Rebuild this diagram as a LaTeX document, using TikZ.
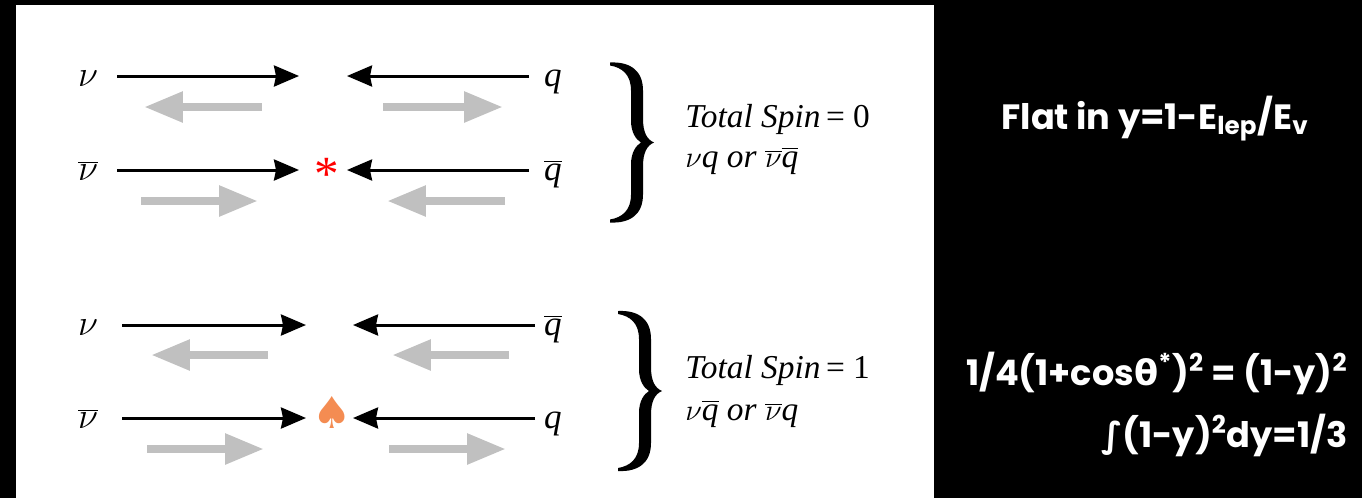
\documentclass[tikz,border=0pt]{standalone}
\usepackage{fontspec}
\setmainfont{Liberation Serif}
\newfontfamily\gothic{Poppins}
\newfontfamily\dejavu{DejaVu Sans}
\usetikzlibrary{arrows.meta}
\definecolor{spingray}{RGB}{192,192,192}
\definecolor{spadeorange}{RGB}{244,140,82}
\newcommand{\bb}[1]{$\overline{\mbox{#1}}$}

\begin{document}
\begin{tikzpicture}[x=0.02cm, y=-0.02cm,
  blk/.style={-{Stealth[length=0.5cm, width=0.42cm, inset=0.04cm]}, line width=0.06cm},
  spin/.style={-{Triangle[length=0.78cm, width=0.58cm]}, line width=0.17cm, spingray},
  lbl/.style={font=\fontsize{20}{22}\selectfont\itshape, inner sep=0pt, anchor=base},
  nulbl/.style={font=\fontsize{22}{24}\selectfont, inner sep=0pt, anchor=base},
  tot/.style={font=\fontsize{19}{22}\selectfont, inner sep=0pt, anchor=base west},
  rtxt/.style={font=\gothic\bfseries\fontsize{20}{24}\selectfont, text=white, inner sep=0pt},
  brace/.pic={
    \fill (0,-80) .. controls (20,-81) and (33,-72) .. (33,-52) -- (33,-24)
      .. controls (33,-10) and (37,-3) .. (44,0)
      .. controls (37,3) and (33,10) .. (33,24) -- (33,52)
      .. controls (33,72) and (20,81) .. (0,80) -- (0,77)
      .. controls (12,75) and (21,68) .. (21,52) -- (21,22)
      .. controls (21,10) and (26,3) .. (31,0)
      .. controls (26,-3) and (21,-10) .. (21,-22) -- (21,-52)
      .. controls (21,-68) and (12,-75) .. (0,-77) -- cycle;
  }
]
  \fill[black] (0,0) rectangle (1362,498);
  \fill[white] (16,5) rectangle (934,498);

  % spin 0 : nu q and nubar qbar
  \node[nulbl] (nu1) at (88,86) {$\nu$};
  \node[lbl] (q1)  at (553,86) {q};
  \node[nulbl] (nub2) at (88,180) {$\overline{\nu}$};
  \node[lbl] (qb2)  at (553,180) {\bb{q}};
  \node[text=red, font=\fontsize{28}{28}\selectfont, inner sep=0pt] (star) at (327,174) {*};

  \coordinate (r1a) at (117,76);  \coordinate (r1b) at (299,76);
  \coordinate (r1c) at (347,76);  \coordinate (r1d) at (529,76);
  \coordinate (r2a) at (117,170); \coordinate (r2b) at (299,170);
  \coordinate (r2c) at (347,170); \coordinate (r2d) at (529,170);
  \draw[blk] (r1a) -- (r1b);  \draw[blk] (r1d) -- (r1c);
  \draw[blk] (r2a) -- (r2b);  \draw[blk] (r2d) -- (r2c);

  \coordinate (g1a) at (262,107); \coordinate (g1b) at (144,107);
  \coordinate (g1c) at (383,107); \coordinate (g1d) at (503,107);
  \coordinate (g2a) at (141,201); \coordinate (g2b) at (258,201);
  \coordinate (g2c) at (505,201); \coordinate (g2d) at (387,201);
  \draw[spin] (g1a) -- (g1b);  \draw[spin] (g1c) -- (g1d);
  \draw[spin] (g2a) -- (g2b);  \draw[spin] (g2c) -- (g2d);

  \pic at (610,142.5) {brace};
  \node[tot] (tot0) at (685,127) {\itshape Total Spin\/\,\upshape = 0};
  \node[tot] (pair0) at (685,167) {\itshape $\nu$q or $\overline{\nu}$\bb{q}};

  % spin 1 : nu qbar and nubar q
  \node[nulbl] (nu3) at (88,335) {$\nu$};
  \node[lbl] (qb3) at (553,335) {\bb{q}};
  \node[nulbl] (nub4) at (88,428) {$\overline{\nu}$};
  \node[lbl] (q4)   at (553,428) {q};
  \node[text=spadeorange, font=\dejavu\fontsize{25}{25}\selectfont, inner sep=0pt] (spade) at (332,412) {♠};

  \coordinate (r3a) at (122,325); \coordinate (r3b) at (306,325);
  \coordinate (r3c) at (353,325); \coordinate (r3d) at (535,325);
  \coordinate (r4a) at (122,418); \coordinate (r4b) at (306,418);
  \coordinate (r4c) at (353,418); \coordinate (r4d) at (535,418);
  \draw[blk] (r3a) -- (r3b);  \draw[blk] (r3d) -- (r3c);
  \draw[blk] (r4a) -- (r4b);  \draw[blk] (r4d) -- (r4c);

  \coordinate (g3a) at (268,355); \coordinate (g3b) at (151,355);
  \coordinate (g3c) at (509,355); \coordinate (g3d) at (392,355);
  \coordinate (g4a) at (147,449); \coordinate (g4b) at (264,449);
  \coordinate (g4c) at (389,449); \coordinate (g4d) at (506,449);
  \draw[spin] (g3a) -- (g3b);  \draw[spin] (g3c) -- (g3d);
  \draw[spin] (g4a) -- (g4b);  \draw[spin] (g4c) -- (g4d);

  \pic at (618,391) {brace};
  \node[tot] (tot1) at (685,378) {\itshape Total Spin\/\,\upshape = 1};
  \node[tot] (pair1) at (685,420) {\itshape $\nu$\bb{q} or $\overline{\nu}$q};

  % right-hand notes
  \node[rtxt, anchor=base] (flat) at (1155,129)
    {Flat in y=1-E\textsubscript{lep}/E\textsubscript{v}};
  \node[rtxt, anchor=base east] (cos) at (1348,385)
    {1/4(1+cos{\dejavu\bfseries θ}\textsuperscript{*})\textsuperscript{2} = (1-y)\textsuperscript{2}};
  \node[rtxt, anchor=base east] (int) at (1348,447)
    {{\dejavu ∫}(1-y)\textsuperscript{2}dy=1/3};
\end{tikzpicture}
\end{document}
